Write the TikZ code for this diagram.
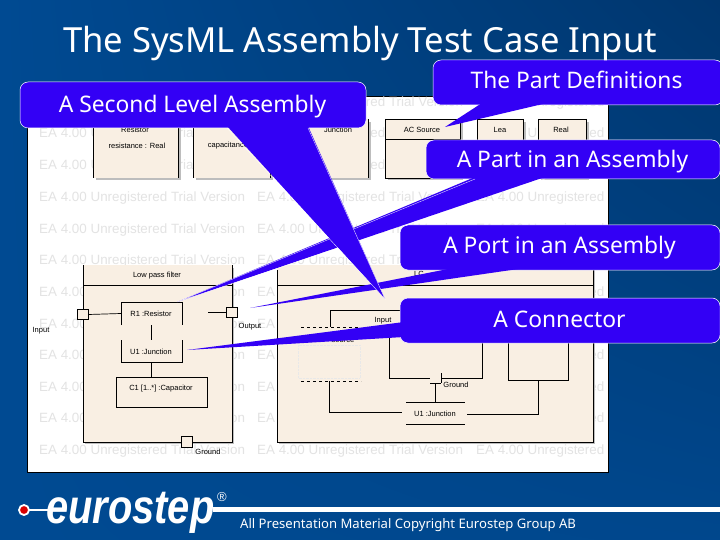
\documentclass[tikz,border=0pt]{standalone}
\usepackage{fontspec}
\setmainfont{Noto Sans}
\newfontfamily\umlfont{Liberation Sans}
\usetikzlibrary{shadings}
\definecolor{myslidecolor}{HTML}{004a92}
\definecolor{myslidedark}{HTML}{00366e}
\definecolor{mycalloutcolor}{HTML}{3300f5}
\definecolor{myblockcolor}{HTML}{f9efe3}
\definecolor{mymarkcolor}{HTML}{e3e3e3}
\definecolor{myshadowcolor}{HTML}{bdbdbd}
\tikzset{
  callout/.style={draw=white, line width=0.5pt, fill=mycalloutcolor, rounded corners=8pt, inner sep=0pt},
  calltext/.style={anchor=base, text=white, inner sep=0pt, font=\fontsize{22.8pt}{22.8pt}\selectfont},
  wedgefill/.style={fill=mycalloutcolor},
  wedgeline/.style={draw=white, line width=0.3pt},
  watermark/.style={anchor=west, inner sep=0pt, text=mymarkcolor, font=\umlfont\fontsize{13.4pt}{13.4pt}\selectfont},
  block/.style={fill=myblockcolor},
  umlline/.style={draw=black, line width=0.7pt},
  umltext/.style={inner sep=0pt, text=black, font=\umlfont\fontsize{7.5pt}{7.5pt}\selectfont},
  portbox/.style={draw=black, fill=myblockcolor, line width=0.7pt, inner sep=0pt, minimum width=11pt, minimum height=10.5pt},
}
\begin{document}
\begin{tikzpicture}[x=1pt, y=-1pt]
\useasboundingbox (0,0) rectangle (720,540);
% slide background
\shade[upper left=myslidecolor, upper right=myslidedark, lower left=myslidecolor, lower right=myslidecolor!85!myslidedark] (0,0) rectangle (720,540);
% white panel
\fill[white, draw=black, line width=0.8pt] (27,96) rectangle (608,472);
% watermark rows
\foreach \rowy in {103,134,166,198,230,261,293,325,356,388,419,451} {
  \foreach \colx in {39,257} {
    \node[watermark] at (\colx,\rowy) {EA 4.00 Unregistered Trial Version};
  }
  \begin{scope}
  \clip (27,96) rectangle (606,472);
  \node[watermark] at (476,\rowy) {EA 4.00 Unregistered Trial Version};
  \end{scope}
}
% part definitions
\foreach \xa/\xb in {93/178,193/270,282/368,385/460,477/523,538/586} {
  \fill[myshadowcolor] (\xa+3,122) rectangle (\xb+3,180);
  \fill[block] (\xa,119) rectangle (\xb,178);
}
\foreach \xa in {93,178,193,270,368,385,460,477,523,538,586} {
  \draw[umlline] (\xa,119) -- (\xa,178);
}
\draw[umlline] (385,119) -- (460,119) (385,139) -- (460,139) (385,178) -- (460,178);
\draw[umlline] (477,119) -- (523,119) (538,119) -- (586,119);
\node[umltext] (resistordef) at (135,130) {Resistor};
\node[umltext] (resistorattr) at (137,146) {resistance : Real};
\node[umltext] (capattr) at (228,146) {capacitance};
\node[umltext] (junctiondef) at (338,130) {Junction};
\node[umltext] (sourcedef) at (422,130) {AC Source};
\node[umltext] (leadef) at (500,130) {Lea};
\node[umltext] (realdef) at (561,130) {Real};
% first assembly
\fill[myshadowcolor] (85,268) rectangle (234,444);
\fill[block] (83,265) rectangle (232,442);
\draw[umlline] (83,442) -- (83,265) (232,265) -- (232,442) -- (83,442);
\draw[umlline] (83,285) -- (232,285);
\node[umltext] (lowpass) at (157,276) {Low pass filter};
\draw[umlline] (121,325) -- (121,302) -- (182,302) -- (182,325);
\draw[umlline] (121,340) -- (121,362) -- (182,362) -- (182,340);
\node[umltext] (resistorpart) at (151,314) {R1 :Resistor};
\node[umltext] (junctionpart) at (151,352) {U1 :Junction};
\node[draw=black, line width=0.7pt, block, minimum width=91pt, minimum height=30pt, inner sep=0pt] (capacitorpart) at (161.5,392) {};
\node[umltext] (capacitortext) at (161,389) {C1 [1..*] :Capacitor};
\draw[umlline] (151,325) -- (151,340);
\draw[umlline] (151,362) -- (151,377);
\node[portbox] (inport) at (82.5,314.5) {};
\node[portbox] (outport) at (232,312.5) {};
\node[portbox] (gndport) at (186.5,442) {};
\draw[umlline] (inport.east) -- (121,313.5);
\draw[umlline] (208,312.5) -- (outport.west);
\node[umltext] (inlabel) at (41,331) {Input};
\node[umltext] (outlabel) at (250,327) {Output};
\node[umltext] (gndlabel) at (208,452) {Ground};
% second assembly
\fill[myshadowcolor] (279,268) rectangle (595,444);
\fill[block] (277,265) rectangle (593,442);
\draw[umlline] (277,270) -- (277,442) -- (593,442) -- (593,265);
\draw[umlline] (277,285) -- (593,285);
\node[umltext] (lclabel) at (419,274) {LC};
\draw[umlline] (330,327) -- (330,310) -- (400,310);
\draw[umlline, dashed] (301,327) -- (358,327);
\draw[umlline, dashed] (301,381) -- (361,381);
\draw[myshadowcolor!35, densely dotted] (298,345) rectangle (360,378);
\node[umltext] (inputtext) at (383,321) {Input};
\node[umltext] (sourcetext) at (343,341) {source};
\draw[umlline] (329,381) -- (329,412) -- (402,412);
\draw[umlline] (406,402) -- (465,402) (406,424) -- (465,424);
\node[umltext] (junctiontwo) at (435,414) {U1 :Junction};
\draw[umlline] (467,414) -- (538,414) -- (538,380);
\draw[umlline] (508,343) -- (508,380) -- (568,380) -- (568,343);
\draw[umlline] (389,338) -- (389,378) -- (430,378);
\draw[umlline] (441,378) -- (482,378) -- (482,343);
\draw[umlline] (430,383) -- (441,383) (441,373) -- (441,383);
\draw[umlline] (435,383) -- (435,402);
\node[umltext] (groundtwo) at (456,385) {Ground};
% callouts
\node[callout, minimum width=320pt, minimum height=45pt] (connectorcall) at (560,320.5) {};
\node[callout, minimum width=320pt, minimum height=45pt] (portcall) at (560,247.5) {};
\node[callout, minimum width=294pt, minimum height=39pt] (partcall) at (573,159.5) {};
\node[callout, minimum width=346pt, minimum height=46pt] (secondcall) at (193,105) {};
\node[callout, minimum width=290pt, minimum height=45pt] (defcall) at (578,82.5) {};
\coordinate (parttip) at (177,302);
\coordinate (porttip) at (250,308);
\coordinate (connectortip) at (187,350);
\coordinate (secondtip) at (385,299);
\coordinate (deftip) at (445,127);
\fill[wedgefill] (475,177) -- (parttip) -- (545,177) -- cycle;
\draw[wedgeline] (475,179) -- (parttip) -- (545,179);
\fill[wedgefill] (453,268) -- (porttip) -- (525,268) -- cycle;
\fill[wedgefill] (404,322) -- (connectortip) -- (404,337) -- cycle;
\fill[wedgefill] (227,126) -- (secondtip) -- (308,126) -- cycle;
\draw[wedgeline] (227,128) -- (secondtip) -- (308,128);
\fill[wedgefill] (482,103) -- (deftip) -- (547,103) -- cycle;
% callout texts
\node[calltext] (connectortext) at (559.5,327) {A Connector};
\node[calltext] (porttext) at (559.5,253) {A Port in an Assembly};
\node[calltext] (parttext) at (572.5,168) {A Part in an Assembly};
\node[calltext] (secondtext) at (192.5,113) {A Second Level Assembly};
\node[calltext] (deftext) at (576.5,89) {The Part Definitions};
% title
\node[anchor=base, text=white, inner sep=0pt, font=\fontsize{34.6pt}{34.6pt}\selectfont] (title) at (360,53) {The SysML Assembly Test Case Input};
% logo
\draw[white, line width=5pt] (213,509.5) -- (720,509.5);
\draw[white, line width=2.5pt] (24,510) -- (50,510);
\node[circle, fill=red!85!black, draw=white, line width=1.8pt, minimum size=10pt, inner sep=0pt] (logodot) at (24,510) {};
\node[anchor=base west, inner sep=0pt, text=white, xscale=0.83, font=\umlfont\bfseries\itshape\fontsize{48pt}{48pt}\selectfont] (logo) at (46,523.5) {eurostep};
\node[text=white, inner sep=0pt, font=\umlfont\fontsize{13pt}{13pt}\selectfont] (regmark) at (222,497) {®};
\node[anchor=base west, inner sep=0pt, text=white, font=\fontsize{13.1pt}{13.1pt}\selectfont] (copyright) at (240,528) {All Presentation Material Copyright Eurostep Group AB};
\end{tikzpicture}
\end{document}
